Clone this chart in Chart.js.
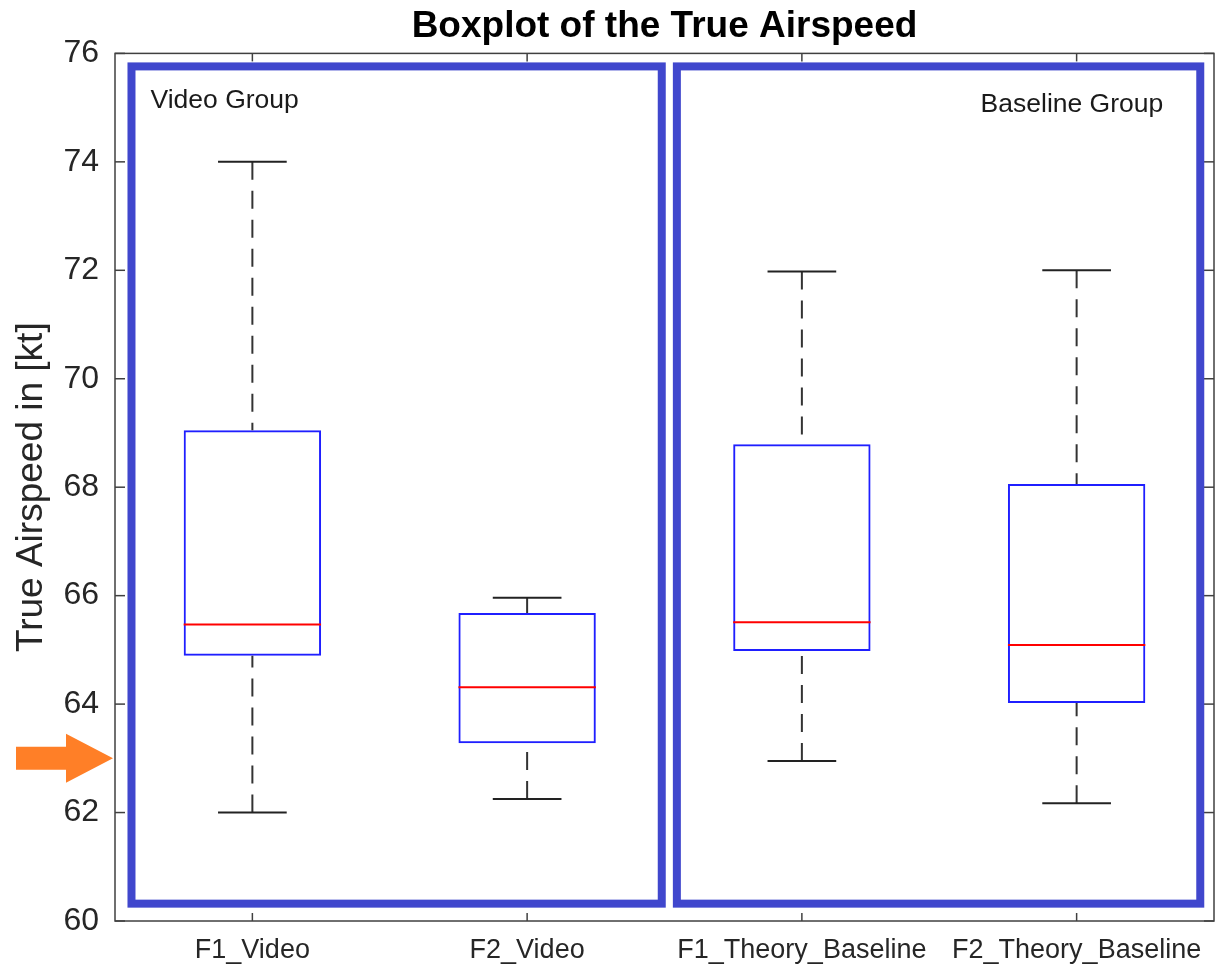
<!DOCTYPE html>
<html>
<head>
<meta charset="utf-8">
<script src="https://cdn.jsdelivr.net/npm/chart.js@4"></script>
<style>
  body { margin: 0; background: #fff; }
</style>
</head>
<body>
<canvas id="boxChart" width="1216" height="967"></canvas>
<script>
// boxplot statistics (kt)
const categories = ['F1_Video', 'F2_Video', 'F1_Theory_Baseline', 'F2_Theory_Baseline'];
const whiskerLow = [62.0, 62.25, 62.95, 62.17];
const quartile1 = [64.89, 63.28, 64.98, 64.02];
const medians = [65.47, 64.31, 65.51, 65.09];
const quartile3 = [69.05, 65.68, 68.79, 68.06];
const whiskerHigh = [74.0, 65.96, 71.98, 72.0];

const yTicks = [60, 62, 64, 66, 68, 70, 72, 74, 76];

const groupNames = ['Video Group', 'Baseline Group'];
const groupFirst = [0, 2];
const groupLast = [1, 3];

const arrowValue = 63;

const SANS = '"Liberation Sans", Arial, Helvetica, sans-serif';
const AXIS_COLOR = '#404040';

function line(ctx, x1, y1, x2, y2) {
    ctx.beginPath();
    ctx.moveTo(x1, y1);
    ctx.lineTo(x2, y2);
    ctx.stroke();
}

// axis frame with inward ticks (MATLAB style)
const frame = {
    id: 'frame',
    beforeDatasetsDraw(chart) {
        const { ctx, chartArea: a, scales: { x, y } } = chart;
        ctx.save();
        ctx.strokeStyle = AXIS_COLOR;
        ctx.lineWidth = 1.5;
        ctx.strokeRect(a.left, a.top, a.right - a.left, a.bottom - a.top);
        y.ticks.forEach(t => {
            const py = y.getPixelForValue(t.value);
            line(ctx, a.left, py, a.left + 10, py);
            line(ctx, a.right, py, a.right - 10, py);
        });
        categories.forEach((c, i) => {
            const px = x.getPixelForValue(i);
            line(ctx, px, a.bottom, px, a.bottom - 8);
            line(ctx, px, a.top, px, a.top + 8);
        });
        ctx.restore();
    }
};

// whiskers, caps and medians
const boxExtras = {
    id: 'boxExtras',
    afterDatasetsDraw(chart) {
        const { ctx, scales: { y } } = chart;
        const meta = chart.getDatasetMeta(0);
        ctx.save();
        meta.data.forEach((bar, i) => {
            const cx = bar.x;
            const half = bar.width / 2;
            const yHi = y.getPixelForValue(whiskerHigh[i]);
            const yLo = y.getPixelForValue(whiskerLow[i]);
            // dashed whiskers, dash pattern starts from the cap
            ctx.strokeStyle = '#333333';
            ctx.lineWidth = 2;
            ctx.setLineDash([18, 11]);
            line(ctx, cx, yHi, cx, y.getPixelForValue(quartile3[i]));
            line(ctx, cx, yLo, cx, y.getPixelForValue(quartile1[i]));
            ctx.setLineDash([]);
            ctx.strokeStyle = '#222222';
            line(ctx, cx - half / 2, yHi, cx + half / 2, yHi);
            line(ctx, cx - half / 2, yLo, cx + half / 2, yLo);
            // median
            ctx.strokeStyle = '#ff0000';
            ctx.lineWidth = 2;
            const ym = y.getPixelForValue(medians[i]);
            line(ctx, cx - half, ym, cx + half, ym);
        });
        ctx.restore();
    }
};

// group rectangles, their labels and the orange arrow
const annotations = {
    id: 'annotations',
    afterDraw(chart) {
        const { ctx, chartArea: a, scales: { x, y } } = chart;
        const unit = x.getPixelForValue(1) - x.getPixelForValue(0);
        const padLeft = [0.44, 0.455];
        const padRight = [0.49, 0.45];
        const top = y.getPixelForValue(75.76);
        const bottom = y.getPixelForValue(60.32);
        ctx.save();
        groupNames.forEach((name, g) => {
            const left = x.getPixelForValue(groupFirst[g]) - padLeft[g] * unit;
            const right = x.getPixelForValue(groupLast[g]) + padRight[g] * unit;
            ctx.strokeStyle = '#4047cd';
            ctx.lineWidth = 8;
            ctx.strokeRect(left, top, right - left, bottom - top);
            ctx.fillStyle = '#1a1a1a';
            ctx.font = '26.5px ' + SANS;
            ctx.textBaseline = 'alphabetic';
            if (g === 0) {
                ctx.textAlign = 'left';
                ctx.fillText(name, left + 19, top + 42);
            } else {
                ctx.textAlign = 'right';
                ctx.fillText(name, right - 37, top + 46);
            }
        });
        // arrow pointing at the 63 kt level
        const ty = y.getPixelForValue(arrowValue);
        const tip = a.left - 2;
        ctx.fillStyle = '#ff7f27';
        ctx.beginPath();
        ctx.moveTo(16, ty - 11.5);
        ctx.lineTo(tip - 47, ty - 11.5);
        ctx.lineTo(tip - 47, ty - 24.5);
        ctx.lineTo(tip, ty);
        ctx.lineTo(tip - 47, ty + 24.5);
        ctx.lineTo(tip - 47, ty + 11.5);
        ctx.lineTo(16, ty + 11.5);
        ctx.closePath();
        ctx.fill();
        ctx.restore();
    }
};

const ctx = document.getElementById('boxChart').getContext('2d');
new Chart(ctx, {
    type: 'bar',
    data: {
        labels: categories,
        datasets: [{
            data: categories.map((c, i) => [quartile1[i], quartile3[i]]),
            backgroundColor: 'rgba(0,0,0,0)',
            borderColor: '#1f1fff',
            borderWidth: 2,
            borderSkipped: false,
            barPercentage: 0.5,
            categoryPercentage: 1
        }]
    },
    options: {
        responsive: false,
        animation: false,
        layout: { padding: { left: 0, right: 2, top: 0, bottom: 0 } },
        plugins: {
            legend: { display: false },
            tooltip: { enabled: false },
            title: {
                display: true,
                text: 'Boxplot of the True Airspeed',
                fullSize: false,
                color: '#000',
                font: { family: SANS, size: 37, weight: 'bold' },
                padding: { top: 5, bottom: 4 }
            }
        },
        scales: {
            x: {
                type: 'category',
                offset: true,
                grid: { display: false, drawTicks: false },
                border: { display: false },
                ticks: {
                    color: '#262626',
                    font: { family: SANS, size: 27 },
                    padding: 13,
                    maxRotation: 0,
                    autoSkip: false
                },
                afterFit(scale) {
                    scale.height = 46;
                    scale.paddingLeft = 0;
                    scale.paddingRight = 0;
                }
            },
            y: {
                min: 60,
                max: 76,
                grid: { display: false, drawTicks: false },
                border: { display: false },
                afterBuildTicks(scale) { scale.ticks = yTicks.map(v => ({ value: v })); },
                ticks: {
                    color: '#262626',
                    font: { family: SANS, size: 32 },
                    padding: 16
                },
                title: {
                    display: true,
                    text: 'True Airspeed in [kt]',
                    color: '#262626',
                    font: { family: SANS, size: 37 },
                    padding: { top: 10, bottom: 0 }
                },
                afterFit(scale) {
                    scale.width = 115;
                    scale.paddingTop = 0;
                    scale.paddingBottom = 0;
                }
            }
        }
    },
    plugins: [frame, boxExtras, annotations]
});
</script>
</body>
</html>
